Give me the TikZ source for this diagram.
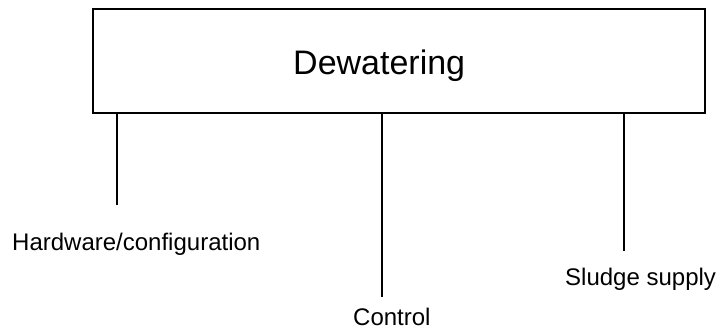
\documentclass[tikz,border=0pt]{standalone}
\usepackage{fontspec}
\setmainfont{Liberation Sans}

\begin{document}
\begin{tikzpicture}[x=1pt,y=-1pt,
   mainbox/.style={draw,line width=1.2pt,minimum width=612pt,minimum height=104pt,inner sep=0pt},
   leg/.style={line width=1.2pt},
   lab/.style={font=\fontsize{24}{28}\selectfont,inner sep=0pt,anchor=base west}]
   \useasboundingbox (0,0) rectangle (718,329);
   \node[mainbox] (dew) at (399,61) {};
   \node[font=\fontsize{34}{40}\selectfont,inner sep=0pt,anchor=base west] (dewtext) at (293,74.5) {Dewatering};
   \node[lab] (hw) at (12,250) {Hardware/configuration};
   \node[lab] (ctrl) at (353,325) {Control};
   \node[lab] (sludge) at (565,285) {Sludge supply};
   \coordinate (hwend) at (117,205);
   \coordinate (ctrlend) at (382,297);
   \coordinate (sludgeend) at (624,251);
   \draw[leg] (dew.south -| hwend) -- (hwend);
   \draw[leg] (dew.south -| ctrlend) -- (ctrlend);
   \draw[leg] (dew.south -| sludgeend) -- (sludgeend);
\end{tikzpicture}
\end{document}
